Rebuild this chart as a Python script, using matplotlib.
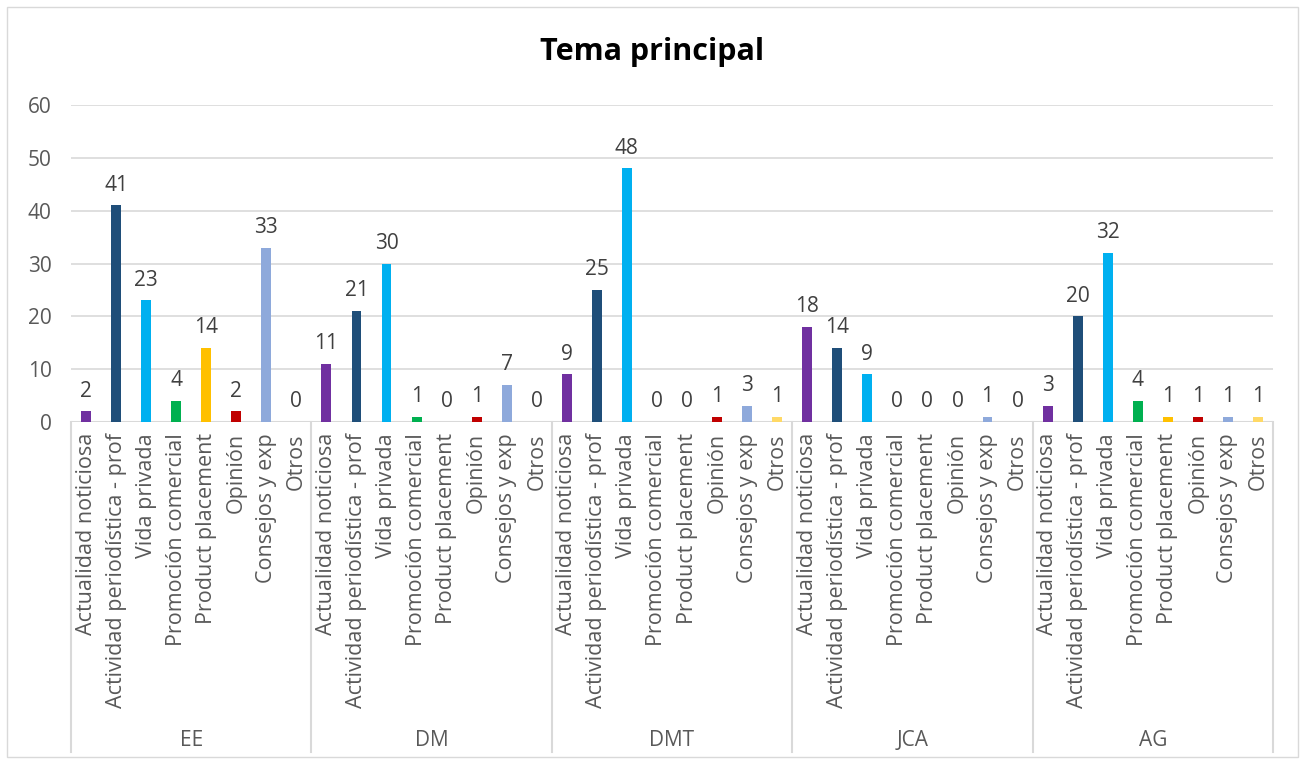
import matplotlib.pyplot as plt
import matplotlib.transforms as mtransforms
from matplotlib.patches import Rectangle

plt.rcParams['font.family'] = ['Open Sans', 'DejaVu Sans']

groups = ["EE", "DM", "DMT", "JCA", "AG"]
categories = ["Actualidad noticiosa", "Actividad periodística - prof", "Vida privada",
              "Promoción comercial", "Product placement", "Opinión", "Consejos y exp", "Otros"]
colors = ["#7030A0", "#1F4E79", "#00B0F0", "#00B050", "#FFC000", "#C00000", "#8EA9DB", "#FFD966"]

ee = [2, 41, 23, 4, 14, 2, 33, 0]
dm = [11, 21, 30, 1, 0, 1, 7, 0]
dmt = [9, 25, 48, 0, 0, 1, 3, 1]
jca = [18, 14, 9, 0, 0, 0, 1, 0]
ag = [3, 20, 32, 4, 1, 1, 1, 1]
values = [ee, dm, dmt, jca, ag]

fig = plt.figure(figsize=(13.04, 7.64), dpi=100)
ax = fig.add_axes([71/1304, 1 - 422/764, (1273 - 71)/1304, (422 - 105)/764])

ncat = len(categories)
for g, vals in enumerate(values):
    for c, v in enumerate(vals):
        x = g * ncat + c
        ax.bar(x, v, width=0.33, color=colors[c], zorder=3)
        ax.annotate(str(v), (x, v), xytext=(0, 7), textcoords="offset points",
                    ha="center", va="bottom", fontsize=15, color="#404040")

ax.set_xlim(-0.5, len(groups) * ncat - 0.5)
ax.set_ylim(0, 60)
ax.set_yticks(range(0, 61, 10))
ax.yaxis.grid(True, color="#D9D9D9", linewidth=1.2, zorder=0)
ax.tick_params(axis="y", length=0, labelsize=15, labelcolor="#595959", pad=14)
for s in ax.spines.values():
    s.set_visible(False)

# category labels
ax.set_xticks(range(len(groups) * ncat))
ax.set_xticklabels(categories * len(groups), rotation=90, fontsize=15.5, color="#595959")
ax.tick_params(axis="x", length=0, pad=8)

# baseline and group separators
ax.axhline(0, color="#D9D9D9", linewidth=1.5, zorder=2)
trans = mtransforms.blended_transform_factory(ax.transData, ax.transAxes)
low = (422 - 752) / (422 - 105)
for g in range(len(groups) + 1):
    xs = g * ncat - 0.5
    ax.plot([xs, xs], [0, low], transform=trans, color="#D9D9D9", linewidth=1.5, clip_on=False)
for g, name in enumerate(groups):
    ax.text(g * ncat + (ncat - 1) / 2, (422 - 740) / (422 - 105), name, transform=trans,
            ha="center", va="center", fontsize=15, color="#595959")

fig.text(0.5, 1 - 52/764, "Tema principal", ha="center", va="center",
         fontsize=22, fontweight="bold", color="black")

fig.patches.append(Rectangle((7/1304, 1 - 757/764), 1291/1304, 750/764, transform=fig.transFigure,
                             fill=False, edgecolor="#D9D9D9", linewidth=1))

plt.savefig("out.png", dpi=100)
